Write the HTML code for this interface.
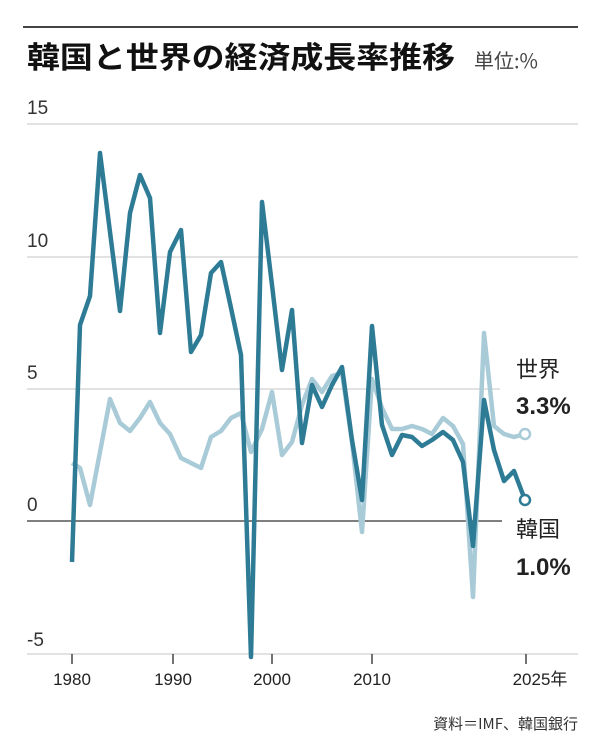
<!DOCTYPE html>
<html><head><meta charset="utf-8"><style>
html,body{margin:0;padding:0;background:#fff;}
svg{display:block;font-family:"Liberation Sans","Noto Sans CJK JP",sans-serif;}
</style></head><body>
<svg width="600" height="750" viewBox="0 0 600 750" xmlns="http://www.w3.org/2000/svg">
<rect width="600" height="750" fill="#fff"/>
<line x1="23" y1="27" x2="578" y2="27" stroke="#444" stroke-width="2"/>
<text x="27" y="68" font-size="30" font-weight="bold" fill="#111" textLength="428" lengthAdjust="spacingAndGlyphs" font-family="Noto Sans CJK JP, sans-serif">韓国と世界の経済成長率推移</text>
<text x="474" y="68" font-size="20" fill="#444" font-family="Noto Sans CJK JP, sans-serif">単位:%</text>
<g stroke="#c4c4c4" stroke-width="1">
<line x1="27" y1="124" x2="578" y2="124"/>
<line x1="27" y1="257" x2="578" y2="257"/>
<line x1="27" y1="389" x2="500" y2="389"/>
<line x1="27" y1="654" x2="578" y2="654"/>
</g>
<line x1="27" y1="521" x2="502" y2="521" stroke="#555" stroke-width="1.5"/>
<g font-size="19" fill="#333">
<text x="27" y="114">15</text>
<text x="27" y="247">10</text>
<text x="27" y="379">5</text>
<text x="27" y="511">0</text>
<text x="27" y="646">-5</text>
</g>
<g stroke="#444" stroke-width="1.5">
<line x1="72" y1="654" x2="72" y2="664"/>
<line x1="173" y1="654" x2="173" y2="664"/>
<line x1="272" y1="654" x2="272" y2="664"/>
<line x1="372" y1="654" x2="372" y2="664"/>
<line x1="526" y1="654" x2="526" y2="664"/>
</g>
<g font-size="17" fill="#222" text-anchor="middle">
<text x="72" y="685">1980</text>
<text x="173" y="685">1990</text>
<text x="272" y="685">2000</text>
<text x="372" y="685">2010</text>
<text x="540" y="685" font-family="Liberation Sans, Noto Sans CJK JP, sans-serif">2025年</text>
</g>
<polyline fill="none" stroke="#a9cbd8" stroke-width="4.5" stroke-linejoin="round" points="72,463 80,468 90,505 100,452 110,399 120,423 130,431 140,418 150,402 160,423 170,434 181,458 191,463 201,468 211,437 221,431 231,418 241,413 251,452 262,429 272,392 282,455 292,442 302,405 312,379 322,392 332,376 342,373 352,442 362,532 372,379 382,408 392,429 402,429 412,426 422,429 432,434 443,418 453,426 463,444 473,597 484,333 494,426 504,434 514,437 525,434"/>
<polyline fill="none" stroke="#2e7b96" stroke-width="4.5" stroke-linejoin="round" points="72,562 80,325 90,296 100,153 110,232 120,311 130,213 140,175 150,198 160,333 170,252 181,230 191,352 201,335 211,273 221,262 231,308 241,355 251,657 262,202 272,285 282,370 292,310 302,443 312,385 322,407 332,385 342,367 352,440 362,500 372,326 382,425 392,455 402,435 412,437 422,446 432,440 443,432 453,440 463,462 473,546 484,400 494,450 504,481 514,471 525,500"/>
<circle cx="525" cy="434" r="5" fill="#fff" stroke="#a9cbd8" stroke-width="2.5"/>
<circle cx="525" cy="500" r="5" fill="#fff" stroke="#2e7b96" stroke-width="2.5"/>
<text x="516" y="377" font-size="22" fill="#222" font-family="Noto Sans CJK JP, sans-serif">世界</text>
<text x="516" y="414" font-size="24" font-weight="bold" fill="#222">3.3%</text>
<text x="516" y="537" font-size="22" fill="#222" font-family="Noto Sans CJK JP, sans-serif">韓国</text>
<text x="516" y="575" font-size="24" font-weight="bold" fill="#222">1.0%</text>
<text x="578" y="729" font-size="15" fill="#333" text-anchor="end" font-family="Noto Sans CJK JP, sans-serif">資料＝IMF、韓国銀行</text>
</svg>
</body></html>
